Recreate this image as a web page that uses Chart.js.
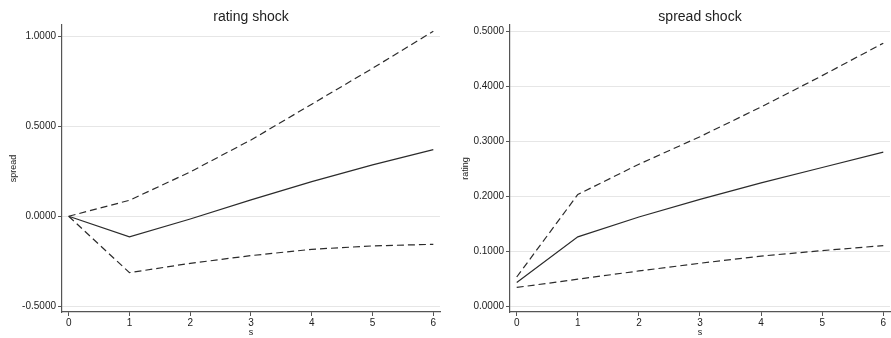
<!DOCTYPE html>
<html>
<head>
<meta charset="utf-8">
<script src="https://cdn.jsdelivr.net/npm/chart.js@4.4.1/dist/chart.umd.min.js"></script>
<style>
  html, body { margin: 0; padding: 0; background: #fff; }
  .panel { position: absolute; top: 0; height: 338px; }
  #p1 { left: 0; width: 445px; }
  #p2 { left: 445px; width: 446px; }
</style>
</head>
<body>
<div class="panel" id="p1"><canvas id="c1"></canvas></div>
<div class="panel" id="p2"><canvas id="c2"></canvas></div>
<script>
// horizon
const steps = [0, 1, 2, 3, 4, 5, 6];

// rating shock -> spread
const ratingIrf   = [0, -0.114, -0.015, 0.091, 0.193, 0.286, 0.371];
const ratingUpper = [0, 0.089, 0.247, 0.425, 0.624, 0.824, 1.030];
const ratingLower = [0, -0.314, -0.262, -0.219, -0.184, -0.165, -0.156];
const ratingTicks = [-0.5, 0, 0.5, 1.0];

// spread shock -> rating
const spreadIrf   = [0.044, 0.127, 0.163, 0.195, 0.225, 0.253, 0.281];
const spreadUpper = [0.054, 0.204, 0.259, 0.309, 0.363, 0.420, 0.479];
const spreadLower = [0.035, 0.050, 0.065, 0.079, 0.092, 0.102, 0.111];
const spreadTicks = [0, 0.1, 0.2, 0.3, 0.4, 0.5];

const FONT = "'Liberation Sans', Arial, sans-serif";
const AXIS = "#555";

function pts(vals){
    return steps.map((s, i) => ({ x: s, y: vals[i] }));
}

function makeChart(id, title, ylabel, irf, up, lo, yTicks, yMin, yMax, yWidth, padRight, yTitlePad){
    const line = (data, dash) => ({
        data: pts(data),
        borderColor: "#2b2b2b",
        borderWidth: 1.2,
        borderDash: dash,
        pointRadius: 0,
        tension: 0,
        fill: false
    });

    return new Chart(document.getElementById(id), {
        type: "line",
        data: {
            datasets: [
                line(up, [7, 4]),
                line(irf, []),
                line(lo, [7, 4])
            ]
        },
        options: {
            responsive: true,
            maintainAspectRatio: false,
            animation: false,
            layout: { padding: { left: 0, right: padRight, top: 0, bottom: 0 } },
            plugins: {
                legend: { display: false },
                tooltip: { enabled: false },
                title: {
                    display: true,
                    fullSize: false,
                    text: title,
                    color: "#222",
                    font: { family: FONT, size: 14, weight: "normal", lineHeight: 1 },
                    padding: { top: 10, bottom: 1 }
                }
            },
            scales: {
                x: {
                    type: "linear",
                    min: -0.11,
                    max: 6.11,
                    afterBuildTicks: s => { s.ticks = steps.map(v => ({ value: v })); },
                    afterFit: s => { s.height = 26; },
                    grid: { drawOnChartArea: false, tickLength: 4, tickColor: AXIS },
                    border: { color: AXIS, width: 1.2 },
                    ticks: {
                        color: "#222",
                        padding: 1,
                        maxRotation: 0,
                        font: { family: FONT, size: 10 }
                    },
                    title: {
                        display: true,
                        text: "s",
                        color: "#222",
                        padding: 0,
                        font: { family: FONT, size: 9 }
                    }
                },
                y: {
                    type: "linear",
                    min: yMin,
                    max: yMax,
                    afterBuildTicks: s => { s.ticks = yTicks.map(v => ({ value: v })); },
                    afterFit: s => { s.width = yWidth; },
                    grid: { color: "#e6e6e6", lineWidth: 1, tickLength: 4, tickColor: AXIS },
                    border: { color: AXIS, width: 1.2 },
                    ticks: {
                        color: "#222",
                        padding: 2,
                        font: { family: FONT, size: 10 },
                        callback: v => Number(v).toFixed(4)
                    },
                    title: {
                        display: true,
                        text: ylabel,
                        color: "#222",
                        padding: { top: yTitlePad, bottom: 0 },
                        font: { family: FONT, size: 9 }
                    }
                }
            }
        }
    });
}

makeChart("c1", "rating shock", "spread", ratingIrf, ratingUpper, ratingLower,
          ratingTicks, -0.533, 1.065, 62, 5, 8);
makeChart("c2", "spread shock", "rating", spreadIrf, spreadUpper, spreadLower,
          spreadTicks, -0.0096, 0.512, 65, 1, 15);
</script>
</body>
</html>
